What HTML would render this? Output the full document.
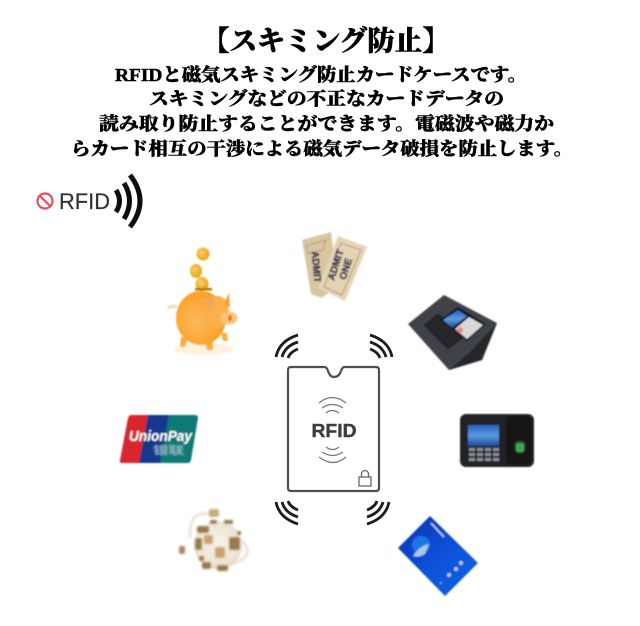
<!DOCTYPE html>
<html lang="ja"><head><meta charset="utf-8"><title>スキミング防止</title>
<style>
html,body{margin:0;padding:0;background:#fff;width:640px;height:626px;overflow:hidden}
svg{display:block}
.h{font-family:"Liberation Serif","Noto Serif CJK JP","Noto Serif CJK SC",serif;font-weight:900;fill:#000;stroke:#000;stroke-width:.45}
</style></head><body>
<svg xmlns="http://www.w3.org/2000/svg" width="640" height="626" viewBox="0 0 640 626">
<defs>
<filter id="b" x="-20%" y="-20%" width="140%" height="140%"><feGaussianBlur stdDeviation=".7"/></filter>
<filter id="b2" x="-20%" y="-20%" width="140%" height="140%"><feGaussianBlur stdDeviation="1.1"/></filter>
<filter id="t"><feGaussianBlur stdDeviation=".35"/></filter>
<radialGradient id="pig" cx=".42" cy=".55" r=".65"><stop offset="0" stop-color="#fdb95c"/><stop offset=".65" stop-color="#fba632"/><stop offset="1" stop-color="#f59a1e"/></radialGradient>
<radialGradient id="coin" cx=".4" cy=".4" r=".7"><stop offset="0" stop-color="#fdd060"/><stop offset="1" stop-color="#e99a10"/></radialGradient>
<radialGradient id="globe" cx=".5" cy=".45" r=".6"><stop offset="0" stop-color="#f7f3ea"/><stop offset=".8" stop-color="#ebe2d0"/><stop offset="1" stop-color="#cdbb9b"/></radialGradient>
<linearGradient id="blue" x1="0" y1="0" x2="1" y2="1"><stop offset="0" stop-color="#0a2fb0"/><stop offset=".5" stop-color="#0c50d8"/><stop offset="1" stop-color="#1266e0"/></linearGradient>
<linearGradient id="scr" x1="0" y1="0" x2="0" y2="1"><stop offset="0" stop-color="#2a5fc0"/><stop offset=".5" stop-color="#5a9ae0"/><stop offset="1" stop-color="#1c4a9a"/></linearGradient>
</defs>

<g filter="url(#t)">
<text class="h" x="202" y="50" font-size="27.5" textLength="248" lengthAdjust="spacingAndGlyphs">【スキミング防止】</text>
<text class="h" x="115" y="81" font-size="18" textLength="412" lengthAdjust="spacingAndGlyphs">RFIDと磁気スキミング防止カードケースです。</text>
<text class="h" x="149" y="105" font-size="18" textLength="355" lengthAdjust="spacingAndGlyphs">スキミングなどの不正なカードデータの</text>
<text class="h" x="99" y="130" font-size="18" textLength="455" lengthAdjust="spacingAndGlyphs">読み取り防止することができます。電磁波や磁力か</text>
<text class="h" x="71" y="155" font-size="18" textLength="502" lengthAdjust="spacingAndGlyphs">らカード相互の干渉による磁気データ破損を防止します。</text>
</g>

<!-- RFID logo -->
<g filter="url(#t)">
<circle cx="45" cy="201" r="7.500" fill="none" stroke="#e2505e" stroke-width="2.200"/>
<line x1="40" y1="196" x2="50" y2="206" stroke="#e2505e" stroke-width="2.200"/>
<text x="59" y="209" font-family="'Liberation Sans',sans-serif" font-size="22" fill="#333" stroke="#333" stroke-width=".2" textLength="51" lengthAdjust="spacingAndGlyphs">RFID</text>
<g fill="none" stroke="#111">
<path d="M116 190Q123 201 116 212" stroke-width="5"/>
<path d="M124 183Q135 201 124 219" stroke-width="5"/>
<path d="M130 175Q150 201 130 227" stroke-width="5"/>
</g>
</g>

<!-- piggy -->
<g filter="url(#b)">
<ellipse cx="204" cy="349" rx="30" ry="6" fill="#fdf1dc"/>
<circle cx="203" cy="254" r="6.500" fill="url(#coin)"/>
<ellipse cx="196" cy="271" rx="6" ry="7" fill="url(#coin)"/>
<ellipse cx="202" cy="284" rx="6.500" ry="7" fill="url(#coin)"/>
<rect x="195" y="288" width="17" height="2.500" fill="#b8740f"/>
<path d="M181 337l7 0-3 10-5 0zM205 340l8 0 0 10-6 0zM221 333l6 0 1 8-5 0z" fill="#f7ad45"/>
<ellipse cx="201" cy="318" rx="25" ry="27" fill="url(#pig)"/>
<ellipse cx="218" cy="312" rx="11" ry="16" fill="#fbb04a"/>
<path d="M204 299l9-4 3 13-7 3z" fill="#f1a857"/>
<path d="M225 301l4-8 1 14-5-1z" fill="#f2a233"/>
<ellipse cx="229" cy="318" rx="8.500" ry="6.500" fill="#fcc27a"/>
<ellipse cx="230" cy="318" rx="2" ry="3" fill="#d57e1a"/>
<path d="M168 308q4-3 9-1" stroke="#eedcb4" stroke-width="3" fill="none"/>
</g>

<!-- tickets -->
<g filter="url(#b)" font-family="'Liberation Sans',sans-serif" font-weight="700">
<polygon points="302,240 331,232 338,285 322,298 311,294" fill="#d9c5a2"/>
<polygon points="306,246 326,240 323,250 308,254" fill="none" stroke="#b58a70" stroke-width=".8"/>
<g transform="translate(316,267) rotate(85)"><text text-anchor="middle" y="3" font-size="10" fill="#2c3850" stroke="#2c3850" stroke-width=".5">ADMIT</text></g>
<polygon points="338,236 367,247 345,301 318,288" fill="#e4d3b3"/>
<polygon points="341,243 361,250 342,295 324,287" fill="none" stroke="#b58a70" stroke-width=".9"/>
<g transform="translate(336,265) rotate(-72)"><text text-anchor="middle" y="3" font-size="10" fill="#2c3850" stroke="#2c3850" stroke-width=".5">ADMIT</text></g>
<g transform="translate(346,269) rotate(-72)"><text text-anchor="middle" y="3" font-size="10" fill="#2c3850" stroke="#2c3850" stroke-width=".5">ONE</text></g>
</g>

<!-- face device -->
<g filter="url(#b)">
<polygon points="408,324 444,295 497,323 482,360 449,370" fill="#404248"/>
<polygon points="449,370 482,360 497,323 470,352" fill="#25262a"/>
<polygon points="423,325 438,313 466,336 448,350" fill="#26272b"/>
<polygon points="440,320 458,307 486,324 467,341" fill="#0e1220"/>
<polygon points="443,320 458,310 467,316 452,328" fill="url(#scr)"/>
<polygon points="455,329 469,317 483,325 467,339" fill="#dbd9d6"/>
<circle cx="460" cy="330" r="3" fill="#e88a8a"/>
</g>

<!-- time clock -->
<g filter="url(#b)">
<rect x="460" y="414" width="74" height="53" rx="6" fill="#222327"/>
<rect x="506" y="416" width="26" height="49" rx="5" fill="#131416"/>
<rect x="468" y="425" width="31" height="21" fill="url(#scr)"/>
<ellipse cx="520" cy="447" rx="6" ry="7" fill="#2c2e30"/>
<rect x="516" y="443" width="8" height="9" rx="2" fill="#3aa84a"/>
<g fill="#8d9098">
<rect x="469" y="448" width="6" height="3"/><rect x="477" y="448" width="6" height="3"/><rect x="485" y="448" width="6" height="3"/><rect x="493" y="448" width="6" height="3"/>
<rect x="469" y="453" width="6" height="3"/><rect x="477" y="453" width="6" height="3"/><rect x="485" y="453" width="6" height="3"/><rect x="493" y="453" width="6" height="3"/>
<rect x="469" y="458" width="6" height="3"/><rect x="477" y="458" width="6" height="3"/><rect x="485" y="458" width="6" height="3"/><rect x="493" y="458" width="6" height="3"/>
</g>
</g>

<!-- blue card -->
<g filter="url(#b)">
<polygon points="430,516 478,563 445,596 398,548" fill="url(#blue)"/>
<circle cx="421" cy="545" r="9" fill="#1f74e6"/>
<path d="M413 556q6-10 16-12l-4 10q-6 4-12 2z" fill="#a8c8f0"/>
<line x1="431" y1="523" x2="444" y2="537" stroke="#c8d8f0" stroke-width="1.500"/>
<g fill="#b8c8e8"><circle cx="449" cy="575" r="2"/><circle cx="456" cy="569" r="2"/><circle cx="461" cy="563" r="2"/></g>
<circle cx="441" cy="583" r="1" fill="#90a8e0"/>
</g>

<!-- UnionPay -->
<g filter="url(#b)">
<path d="M131 415h20l-9 48h-20q-3 0-2-3l8-42q1-3 3-3z" fill="#d9252f"/>
<polygon points="148,415 172,415 163,463 139,463" fill="#13398c"/>
<path d="M169 415h26q3 0 3 3l-7 42q-1 3-3 3h-28z" fill="#0e7a78"/>
<text x="129" y="441" font-family="'Liberation Sans',sans-serif" font-weight="700" font-style="italic" font-size="15" fill="#fff" textLength="63" lengthAdjust="spacingAndGlyphs">UnionPay</text>
<g filter="url(#b)"><text x="153" y="454" font-family="'Liberation Sans','Noto Sans CJK SC',sans-serif" font-weight="700" font-size="11" fill="#9fb7c4" textLength="31" lengthAdjust="spacingAndGlyphs">银联</text></g>
</g>

<!-- globe -->
<g filter="url(#b2)">
<path d="M190 538Q189 520 198 515Q205 512 213 514" fill="none" stroke="#ece3d3" stroke-width="3"/>
<path d="M242 540Q252 552 243 559Q236 563 228 565" fill="none" stroke="#ece3d3" stroke-width="3"/>
<circle cx="218" cy="545" r="24" fill="url(#globe)"/>
<rect x="209" y="509" width="10" height="8" rx="2" fill="#c9ad78"/>
<rect x="179" y="546" width="6" height="8" rx="2" fill="#a78a5a"/>
<g fill="#9a7a48">
<rect x="197" y="526" width="12" height="7" rx="2"/>
<rect x="195" y="538" width="7" height="12" rx="2"/>
<rect x="199" y="556" width="5" height="5" rx="1"/>
<rect x="202" y="562" width="9" height="7" rx="2"/>
<rect x="217" y="565" width="11" height="6" rx="2"/>
<rect x="229" y="537" width="11" height="13" rx="2"/>
<rect x="210" y="520" width="7" height="4" rx="1"/>
<rect x="224" y="520" width="9" height="4" rx="1"/>
<rect x="237" y="531" width="4" height="4" rx="1"/>
</g>
<rect x="204" y="535" width="9" height="9" rx="2" fill="#c9a468"/>
<rect x="215" y="547" width="10" height="11" rx="2" fill="#c9a468"/>
</g>

<!-- central card -->
<g filter="url(#t)">
<path d="M291 367H324Q327 367 328 371Q330 377 334 377Q339 377 341 371Q342 367 345 367H376Q379 367 379 370V488Q379 491 376 491H291Q288 491 288 488V370Q288 367 291 367Z" fill="#fff" stroke="#505050" stroke-width="2.200"/>
<text x="334" y="437" text-anchor="middle" font-family="'Liberation Sans',sans-serif" font-weight="700" font-size="18" fill="#3d3d3d" stroke="#3d3d3d" stroke-width=".4" textLength="45" lengthAdjust="spacingAndGlyphs">RFID</text>
<g fill="none" stroke="#777" stroke-width="1.200">
<path d="M319 403Q332 392 346 403"/><path d="M322 408Q332 401 343 408"/><path d="M326 413Q332 408 339 413"/>
<path d="M326 447Q333 452 339 447"/><path d="M322 452Q333 459 343 452"/><path d="M319 457Q333 468 346 457"/>
</g>
<rect x="359" y="477" width="12" height="9" fill="none" stroke="#666" stroke-width="1.300"/>
<path d="M361.500 477V474a3.500 3.500 0 0 1 7 0V477" fill="none" stroke="#666" stroke-width="1.300"/>
</g>

<!-- corner signals -->
<g fill="none" stroke="#1a1a1a" stroke-width="2.800" filter="url(#t)">
<path d="M276 357Q279 341 298 335"/><path d="M282 357Q285 346 298 342"/><path d="M288 358Q290 352 298 349"/>
<path d="M392 357Q389 341 370 335"/><path d="M386 357Q383 346 370 342"/><path d="M380 358Q378 352 370 349"/>
<path d="M276 502Q279 518 298 524"/><path d="M282 502Q285 513 298 517"/><path d="M288 501Q290 507 298 510"/>
<path d="M389 502Q386 518 367 524"/><path d="M383 502Q380 513 367 517"/><path d="M377 501Q375 507 367 510"/>
</g>
</svg>
</body></html>
